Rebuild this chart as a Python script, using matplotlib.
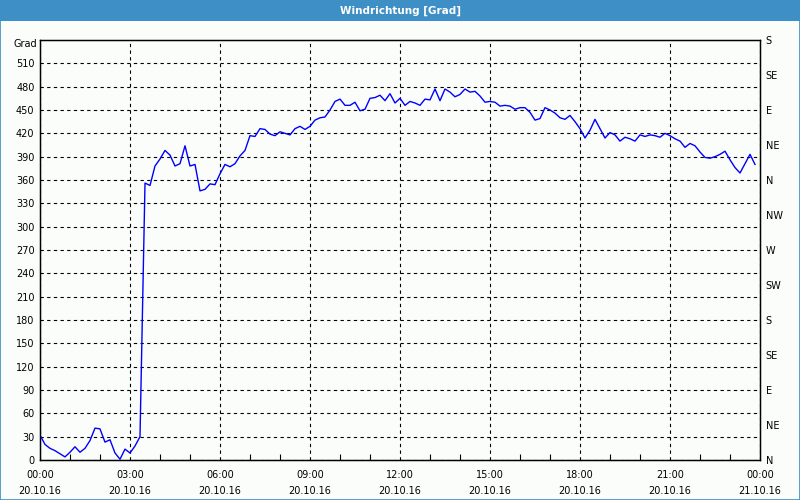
import matplotlib

matplotlib.use("Agg")
import matplotlib.pyplot as plt
import matplotlib.dates as mdates
import pandas as pd
from matplotlib.patches import Rectangle

# wind direction in degrees, one reading every 10 minutes from 20.10.16 00:00
DIRECTION = [
    32, 20, 15, 12, 8, 4, 10, 17, 10, 15, 25, 41,
    40, 23, 26, 9, 1, 14, 9, 18, 30, 356, 353, 378,
    387, 398, 392, 378, 381, 404, 378, 380, 346, 348, 355, 354,
    368, 380, 377, 381, 391, 398, 417, 416, 426, 425, 419, 417,
    422, 420, 418, 426, 429, 425, 429, 437, 440, 441, 450, 461,
    464, 456, 456, 460, 449, 451, 465, 466, 469, 462, 471, 459,
    465, 456, 461, 459, 456, 464, 463, 477, 462, 477, 473, 467,
    470, 477, 473, 474, 468, 460, 461, 460, 455, 456, 455, 451,
    453, 453, 447, 437, 439, 453, 450, 446, 440, 438, 443, 435,
    426, 414, 424, 438, 426, 414, 421, 418, 410, 415, 413, 410,
    418, 416, 418, 417, 415, 420, 417, 413, 410, 402, 407, 404,
    396, 389, 388, 390, 393, 397, 386, 376, 369, 381, 393, 380,
]
TIMES = pd.date_range("2016-10-20 00:00", periods=len(DIRECTION), freq="10min")

Y_TICKS = list(range(0, 540, 30))
COMPASS_TICKS = list(range(0, 541, 45))
COMPASS_LABELS = ["N", "NE", "E", "SE", "S", "SW", "W", "NW", "N", "NE", "E", "SE", "S"]

BG = "#FBFDFB"
BAR = "#3D8FC6"

plt.rcParams.update({"font.family": ["DejaVu Sans"], "font.size": 7})

fig = plt.figure(figsize=(8, 5), dpi=100, facecolor=BG)
fig.patches.append(Rectangle((0, 0.958), 1, 0.042, transform=fig.transFigure,
                             facecolor=BAR, edgecolor="none", zorder=0))
fig.patches.append(Rectangle((0.0006, 0.001), 0.9988, 0.998, transform=fig.transFigure,
                             facecolor="none", edgecolor=BAR, linewidth=1.2, zorder=5))
fig.text(0.5, 0.979, "Windrichtung [Grad]", color="white", fontweight="bold",
         ha="center", va="center", fontsize=7.5)

ax = fig.add_axes([0.05, 0.08, 0.9, 0.84])
ax.set_facecolor(BG)
ax.plot(TIMES, DIRECTION, color="#0000FF", linewidth=1.0, zorder=3)

start = pd.Timestamp("2016-10-20 00:00")
ax.set_xlim(start, start + pd.Timedelta(hours=24))
ax.set_ylim(0, 540)
ax.set_yticks(Y_TICKS)

ax.xaxis.set_major_locator(mdates.HourLocator(byhour=range(0, 24, 3)))
ax.xaxis.set_minor_locator(mdates.HourLocator())
ax.xaxis.set_major_formatter(mdates.DateFormatter("%H:%M\n%d.%m.%y"))
ax.tick_params(axis="x", which="major", length=0, pad=7)
ax.tick_params(axis="x", which="minor", direction="in", length=4, width=0.8, color="black")
ax.tick_params(axis="y", length=0, pad=4)
for lbl in ax.get_xticklabels():
    lbl.set_linespacing(1.75)

ax.grid(True, which="major", color="black", linestyle=(0, (3, 3)), linewidth=0.8)
for s in ax.spines.values():
    s.set_color("black")
    s.set_linewidth(1.0)

ax2 = ax.twinx()
ax2.set_ylim(0, 540)
ax2.set_yticks(COMPASS_TICKS)
ax2.set_yticklabels(COMPASS_LABELS)
ax2.tick_params(axis="y", length=0, pad=4)

fig.text(0.046, 0.912, "Grad", ha="right", va="center", fontsize=7)

fig.savefig("out.png", dpi=100, facecolor=BG)
